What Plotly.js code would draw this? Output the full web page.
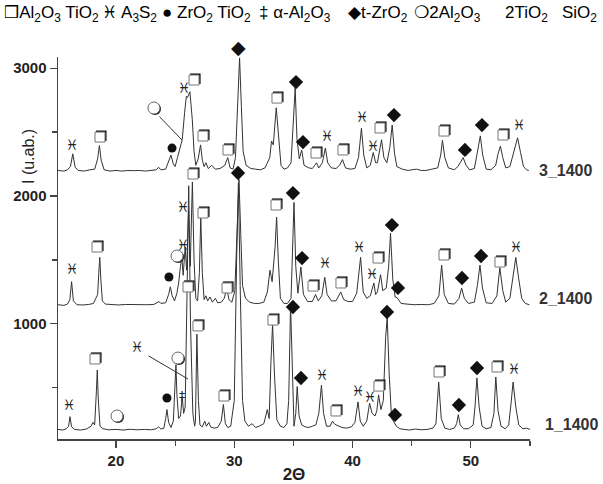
<!DOCTYPE html>
<html><head><meta charset="utf-8">
<script src="https://cdn.plot.ly/plotly-3.0.1.min.js"></script>
<style>html,body{margin:0;padding:0;background:#fff}#chart{width:603px;height:484px}</style>
</head><body><div id="chart"></div>
<script>
// ---- XRD patterns: [2theta, intensity] ----
const pattern3 = [[15.1,2200],[15.6,2195],[15.9,2205],[16.15,2230],[16.35,2330],[16.55,2225],[16.8,2200],[17.3,2195],[17.8,2205],[18.2,2210],[18.45,2290],[18.6,2395],[18.75,2280],[19.0,2205],[19.5,2195],[20.0,2200],[20.5,2195],[21.0,2200],[21.5,2198],[22.0,2200],[22.5,2195],[23.0,2200],[23.4,2205],[23.6,2225],[23.8,2205],[24.2,2210],[24.45,2270],[24.65,2320],[24.85,2250],[25.0,2230],[25.2,2300],[25.45,2400],[25.6,2440],[25.8,2650],[25.95,2780],[26.05,2770],[26.25,2815],[26.45,2600],[26.6,2350],[26.75,2240],[26.95,2290],[27.15,2400],[27.3,2280],[27.45,2230],[27.6,2260],[27.8,2215],[28.1,2240],[28.4,2210],[28.8,2215],[29.2,2240],[29.45,2300],[29.65,2220],[29.9,2210],[30.1,2300],[30.3,2700],[30.45,3080],[30.6,2700],[30.75,2350],[31.0,2240],[31.4,2215],[31.8,2210],[32.2,2205],[32.6,2220],[33.0,2300],[33.15,2430],[33.3,2400],[33.55,2690],[33.75,2450],[33.95,2240],[34.2,2210],[34.5,2220],[34.8,2260],[35.0,2600],[35.15,2845],[35.3,2450],[35.5,2290],[35.7,2360],[35.9,2240],[36.3,2220],[36.6,2215],[36.8,2240],[36.95,2260],[37.15,2220],[37.45,2260],[37.7,2375],[37.9,2260],[38.2,2220],[38.6,2215],[38.9,2240],[39.15,2285],[39.4,2220],[39.8,2210],[40.2,2215],[40.5,2300],[40.75,2530],[40.95,2320],[41.2,2220],[41.5,2240],[41.75,2340],[41.95,2260],[42.1,2260],[42.45,2440],[42.65,2300],[42.9,2260],[43.15,2380],[43.35,2555],[43.55,2330],[43.75,2230],[44.2,2210],[44.7,2200],[45.0,2205],[45.4,2210],[45.8,2200],[46.2,2200],[46.7,2210],[47.2,2220],[47.45,2320],[47.6,2435],[47.8,2300],[48.1,2220],[48.6,2205],[48.9,2230],[49.1,2260],[49.35,2300],[49.6,2240],[49.9,2205],[50.3,2215],[50.55,2340],[50.8,2470],[51.0,2320],[51.3,2210],[51.7,2205],[52.1,2240],[52.3,2330],[52.5,2390],[52.7,2300],[52.95,2220],[53.3,2230],[53.6,2330],[53.95,2455],[54.2,2340],[54.45,2230],[54.7,2205],[54.9,2200]];

const pattern2 = [[15.1,1150],[15.6,1145],[15.9,1155],[16.1,1190],[16.25,1330],[16.4,1180],[16.7,1150],[17.2,1148],[17.7,1152],[18.1,1160],[18.3,1200],[18.45,1230],[18.55,1400],[18.63,1520],[18.72,1350],[18.85,1180],[19.1,1155],[19.6,1150],[20.2,1148],[20.8,1152],[21.4,1150],[22.0,1148],[22.6,1150],[23.2,1152],[23.5,1165],[23.65,1175],[23.8,1160],[24.2,1165],[24.45,1230],[24.6,1290],[24.75,1220],[24.95,1180],[25.15,1240],[25.3,1320],[25.45,1450],[25.57,1520],[25.68,1380],[25.85,1600],[25.97,1420],[26.14,1890],[26.28,1450],[26.46,2110],[26.6,1500],[26.75,1200],[26.9,1180],[27.05,1400],[27.17,1835],[27.3,1400],[27.45,1190],[27.6,1220],[27.75,1180],[27.95,1210],[28.15,1170],[28.4,1200],[28.6,1165],[28.9,1170],[29.15,1200],[29.37,1280],[29.55,1190],[29.8,1170],[30.05,1260],[30.25,1700],[30.4,2130],[30.55,1700],[30.7,1300],[30.95,1200],[31.3,1170],[31.7,1160],[32.1,1160],[32.5,1170],[32.8,1250],[33.02,1420],[33.2,1330],[33.45,1600],[33.58,1835],[33.72,1500],[33.9,1200],[34.2,1160],[34.5,1160],[34.8,1200],[34.95,1600],[35.05,1950],[35.2,1450],[35.38,1240],[35.63,1445],[35.85,1230],[36.2,1175],[36.6,1175],[36.87,1230],[37.1,1180],[37.4,1220],[37.65,1365],[37.85,1230],[38.2,1180],[38.6,1180],[39.0,1250],[39.25,1190],[39.6,1175],[40.0,1175],[40.35,1240],[40.68,1520],[40.9,1250],[41.2,1200],[41.5,1220],[41.8,1320],[41.95,1230],[42.1,1250],[42.37,1385],[42.55,1260],[42.85,1280],[43.05,1450],[43.21,1710],[43.4,1350],[43.6,1210],[43.77,1205],[44.1,1160],[44.6,1155],[45.2,1150],[45.8,1152],[46.4,1150],[46.9,1160],[47.3,1220],[47.53,1460],[47.75,1230],[48.1,1160],[48.6,1155],[49.0,1200],[49.22,1280],[49.45,1200],[49.8,1160],[50.3,1170],[50.55,1300],[50.77,1460],[50.98,1280],[51.3,1165],[51.8,1160],[52.2,1220],[52.45,1440],[52.7,1260],[52.95,1170],[53.3,1200],[53.55,1380],[53.8,1520],[54.05,1350],[54.3,1200],[54.6,1160],[54.95,1150]];

const pattern1 = [[15.1,175],[15.5,170],[15.8,180],[16.0,200],[16.11,275],[16.25,195],[16.5,175],[17.0,170],[17.5,178],[17.9,200],[18.05,230],[18.2,210],[18.35,480],[18.42,640],[18.5,420],[18.65,200],[18.9,180],[19.4,172],[20.0,175],[20.6,170],[21.2,176],[21.8,172],[22.4,175],[23.0,172],[23.4,180],[23.6,195],[23.8,178],[24.05,185],[24.2,260],[24.31,330],[24.45,230],[24.65,190],[24.85,240],[25.0,500],[25.07,680],[25.15,450],[25.3,260],[25.45,280],[25.6,430],[25.72,300],[25.85,350],[26.0,1200],[26.15,2080],[26.3,1000],[26.5,300],[26.65,200],[26.72,240],[26.84,920],[26.97,400],[27.1,210],[27.3,195],[27.5,240],[27.65,200],[27.85,230],[28.0,195],[28.3,185],[28.6,190],[28.9,240],[29.08,370],[29.25,220],[29.45,190],[29.7,200],[30.0,400],[30.2,1500],[30.35,2100],[30.5,1300],[30.7,400],[30.9,240],[31.2,200],[31.5,220],[31.8,190],[32.1,200],[32.5,220],[32.79,330],[32.95,260],[33.1,700],[33.24,1000],[33.4,600],[33.6,250],[33.9,200],[34.2,190],[34.45,220],[34.6,400],[34.76,1150],[34.92,500],[35.05,200],[35.2,300],[35.32,510],[35.48,280],[35.7,210],[36.0,195],[36.3,190],[36.6,200],[36.9,210],[37.15,300],[37.37,520],[37.55,300],[37.8,200],[38.1,200],[38.3,240],[38.5,215],[38.8,200],[39.1,190],[39.5,185],[39.9,195],[40.2,230],[40.46,390],[40.65,240],[40.9,200],[41.2,240],[41.44,380],[41.65,300],[41.9,280],[42.05,320],[42.2,445],[42.4,330],[42.6,400],[42.8,900],[42.93,1050],[43.1,600],[43.3,260],[43.45,240],[43.7,200],[44.0,180],[44.4,175],[44.8,170],[45.3,178],[45.8,172],[46.3,175],[46.8,185],[47.05,220],[47.28,545],[47.5,260],[47.8,185],[48.2,175],[48.6,185],[48.8,220],[48.94,290],[49.1,210],[49.4,180],[49.8,180],[50.2,210],[50.35,350],[50.51,578],[50.7,350],[50.95,200],[51.3,180],[51.7,190],[51.95,300],[52.11,585],[52.3,320],[52.55,200],[52.9,180],[53.2,210],[53.4,380],[53.57,545],[53.8,350],[54.05,210],[54.4,180],[54.7,185],[55.0,175]];

const seriesNames = ['3_1400','2_1400','1_1400'];

// ---- phase labels placed over peaks: [2theta, intensity] ----
const labAlTiO = [[18.65,2461],[26.60,2907],[27.36,2469],[29.47,2360],[33.61,2766],[36.91,2336],[39.19,2360],[42.32,2532],[47.73,2508],[52.72,2477],
  [18.40,1601],[26.51,2172],[27.36,1867],[29.39,1281],[33.53,1930],[36.66,1296],[39.02,1320],[42.15,1515],[47.73,1539],[52.46,1484],
  [18.23,726],[26.09,1289],[26.93,984],[29.13,436],[33.27,1030],[38.60,319],[42.23,514],[47.31,624],[52.21,663]];
const labA3S2 = [[16.28,2391],[25.75,2829],[37.84,2461],[40.80,2610],[41.73,2383],[54.07,2540],
  [16.28,1414],[25.67,1609],[25.67,1906],[37.67,1461],[40.54,1593],[41.64,1382],[53.82,1593],
  [16.03,358],[21.78,804],[37.42,585],[40.46,467],[41.47,413],[53.65,632]];
const labZrTiO = [[24.74,2375],[24.48,1367],[24.31,421]];
const labAlpha = [[25.58,428]];
const labTZr = [[30.40,3165],[35.22,2891],[35.81,2422],[43.50,2633],[49.50,2360],[50.94,2555],
  [30.32,2180],[34.96,2023],[35.73,1515],[43.33,1773],[43.84,1281],[49.25,1359],[50.86,1531],
  [34.96,1132],[35.64,577],[42.91,1093],[43.59,288],[48.99,366],[50.52,655]];
const labMullite = [[23.21,2688],[25.16,1531],[20.09,280],[25.24,733]];

const legendItems = ['❒Al<sub>2</sub>O<sub>3</sub> TiO<sub>2</sub>','♓ A<sub>3</sub>S<sub>2</sub>','● ZrO<sub>2</sub> TiO<sub>2</sub>','‡ α-Al<sub>2</sub>O<sub>3</sub>','◆t-ZrO<sub>2</sub>','❍2Al<sub>2</sub>O<sub>3</sub>','2TiO<sub>2</sub>','SiO<sub>2</sub>'];

// pixel scale of the axes (used only for the small shadow offsets of the label symbols)
const X0 = 15.1, X1 = 55.0, Y0 = 100, Y1 = 3087, W = 472, H = 382;
const pxX = (X1-X0)/W, pxY = (Y1-Y0)/H;

const lineColor = '#333';
const traces = [];
[pattern3, pattern2, pattern1].forEach((p, i) => {
  traces.push({x: p.map(d=>d[0]), y: p.map(d=>d[1]), type:'scatter', mode:'lines',
    line:{color:lineColor, width:1}, hoverinfo:'skip', showlegend:false, name: seriesNames[i]});
});
function markTrace(arr, symbol, size, color, lineW, lineC, dx, dy){
  return {x: arr.map(d=>d[0] + dx*pxX), y: arr.map(d=>d[1] + dy*pxY), type:'scatter', mode:'markers', cliponaxis:false,
    marker:{symbol:symbol, size:size, color:color, line:{width:lineW, color:lineC}}, hoverinfo:'skip', showlegend:false};
}
const inRange = arr => arr.filter(d => d[1] <= Y1);
const outRange = arr => arr.filter(d => d[1] > Y1);
// shadowed squares (Al2O3 TiO2)
traces.push(markTrace(labAlTiO,'square',10.5,'#111',0,'#111',1.3,1.3));
traces.push(markTrace(labAlTiO,'square',10,'#fff',1,'#777',0,0));
// shadowed circles (mullite)
traces.push(markTrace(labMullite,'circle',12,'#222',0,'#222',1.1,-1.0));
traces.push(markTrace(labMullite,'circle',12,'#fff',1,'#666',0,0));
traces.push(markTrace(labZrTiO,'circle',9,'#111',0,'#111',0,0));
traces.push(markTrace(inRange(labTZr),'diamond',11,'#111',0,'#111',0,0));
function textTrace(arr, glyph, size){
  return {x: arr.map(d=>d[0]), y: arr.map(d=>d[1]), type:'scatter', mode:'text',
    text: arr.map(()=>glyph), textposition:'middle center', cliponaxis:false,
    textfont:{family:'DejaVu Sans', size:size, color:'#222'}, hoverinfo:'skip', showlegend:false};
}
traces.push(textTrace(labA3S2,'♓',14));
traces.push(textTrace(labAlpha,'‡',12));

const legendX = [2,100,160,257,346,412,503,560];
const annotations = legendItems.map((t,i)=>({text:t, xref:'paper', yref:'paper',
  x:(legendX[i]-58)/W, y:(439-14)/H, xanchor:'left', yanchor:'middle', showarrow:false,
  font:{family:'Liberation Sans, DejaVu Sans', size:17, color:'#000'}}));
// labels lying above the axis range (drawn in paper units so they are not hidden)
outRange(labTZr).forEach(d => annotations.push({text:'◆', xref:'x', yref:'paper', x:d[0], y:(d[1]-Y0)/(Y1-Y0), showarrow:false,
  xanchor:'center', yanchor:'middle', font:{family:'DejaVu Sans', size:19, color:'#111'}}));
// series labels
const seriesLabelY = [2203, 1202, 217];
const seriesLabelX = [537, 537, 543];
seriesNames.forEach((n,i)=>annotations.push({text:n, xref:'paper', yref:'y', x:(seriesLabelX[i]-58)/W, y:seriesLabelY[i],
  xanchor:'left', yanchor:'middle', showarrow:false, font:{family:'Liberation Sans', size:16, color:'#333', weight:'bold'}}));
// y title
annotations.push({text:'I (u.ab.)', xref:'paper', yref:'paper', x:(28-58)/W, y:(439-157)/H, textangle:-90,
  xanchor:'center', yanchor:'middle', showarrow:false, font:{family:'Liberation Sans', size:16, color:'#222'}});
// leader lines
annotations.push({xref:'x', yref:'y', axref:'x', ayref:'y', x:25.58, y:2438, ax:23.55, ay:2633, showarrow:true, arrowhead:0, arrowwidth:1, arrowcolor:'#333', text:''});
annotations.push({xref:'x', yref:'y', axref:'x', ayref:'y', x:26.09, y:569, ax:22.62, ay:757, showarrow:true, arrowhead:0, arrowwidth:1, arrowcolor:'#333', text:''});

const layout = {
  width:603, height:484, margin:{l:58, r:73, t:57, b:45},
  paper_bgcolor:'#fff', plot_bgcolor:'#fff', showlegend:false,
  xaxis:{range:[X0,X1], showgrid:false, zeroline:false, showline:true, linecolor:'#444', linewidth:1.5,
    ticks:'outside', ticklen:7, tickcolor:'#444', tickwidth:1.2, dtick:10, tick0:0,
    minor:{dtick:5, tick0:0, ticks:'outside', ticklen:5, tickcolor:'#444'},
    tickfont:{family:'Liberation Sans', size:15, color:'#222', weight:'bold'},
    title:{text:'2Θ', font:{family:'Liberation Sans', size:17, color:'#222', weight:'bold'}, standoff:8}},
  yaxis:{range:[Y0,Y1], showgrid:false, zeroline:false, showline:true, linecolor:'#444', linewidth:1.5,
    ticks:'outside', ticklen:7, tickcolor:'#444', tickwidth:1.2, dtick:1000, tick0:0,
    minor:{dtick:500, tick0:0, ticks:'outside', ticklen:5, tickcolor:'#444'},
    tickfont:{family:'Liberation Sans', size:15, color:'#222', weight:'bold'}},
  annotations: annotations
};
Plotly.newPlot('chart', traces, layout, {displayModeBar:false, staticPlot:true});
</script></body></html>
